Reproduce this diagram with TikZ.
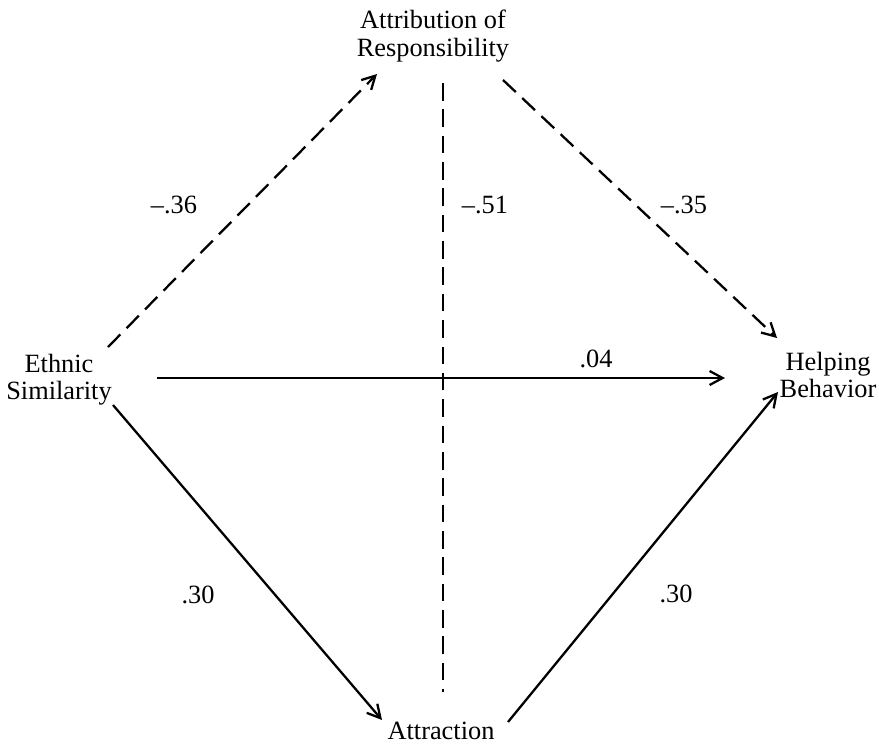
\documentclass[tikz,border=0pt]{standalone}
\usepackage{fontspec}
\setmainfont{Liberation Serif}
\usetikzlibrary{arrows.meta}

\begin{document}
\begin{tikzpicture}[
    x=0.02cm, y=-0.02cm,
    >={Straight Barb[length=2.6mm,width=2.8mm]},
    varbox/.style={inner sep=0pt, align=center, font=\fontsize{15}{15.5}\selectfont},
    coef/.style={font=\fontsize{15}{15}\selectfont},
    path/.style={line width=1.3pt},
    dpath/.style={line width=1.3pt, dash pattern=on 10pt off 5pt},
]
\useasboundingbox (0,0) rectangle (879,744);

% === Variables ===
\node[varbox] (att) at (433,36) {Attribution of\\Responsibility};
\node[varbox] (eth) at (59,380) {Ethnic\\Similarity};
\node[varbox] (help) at (828,375) {Helping\\Behavior};
\node[varbox] (attr) at (441,731) {Attraction};

% === Paths through responsibility ===
\draw[dpath, ->] ([shift={(49,-33)}]eth.center) -- ([shift={(-56,38)}]att.center);
\draw[dpath, ->] ([shift={(70,44)}]att.center) -- ([shift={(-51,-37)}]help.center);
\node[coef] (c1) at (174,205) {--.36};
\node[coef] (c2) at (684,205) {--.35};

% === Direct path ===
\draw[path, ->] ([shift={(98,-2)}]eth.center) -- ([shift={(-103,3)}]help.center);
\node[coef] (c3) at (596,359) {.04};

% === Paths through attraction ===
\draw[path, ->] ([shift={(54,25)}]eth.center) -- ([shift={(-59,-11)}]attr.center);
\draw[path, ->] ([shift={(67,-9)}]attr.center) -- ([shift={(-50,17)}]help.center);
\node[coef] (c4) at (198,595) {.30};
\node[coef] (c5) at (676,594) {.30};

% === Responsibility and attraction ===
\draw[dpath] ([shift={(10,47)}]att.center) -- ([shift={(2,-39)}]attr.center);
\node[coef] (c6) at (485,205) {--.51};

\end{tikzpicture}
\end{document}
